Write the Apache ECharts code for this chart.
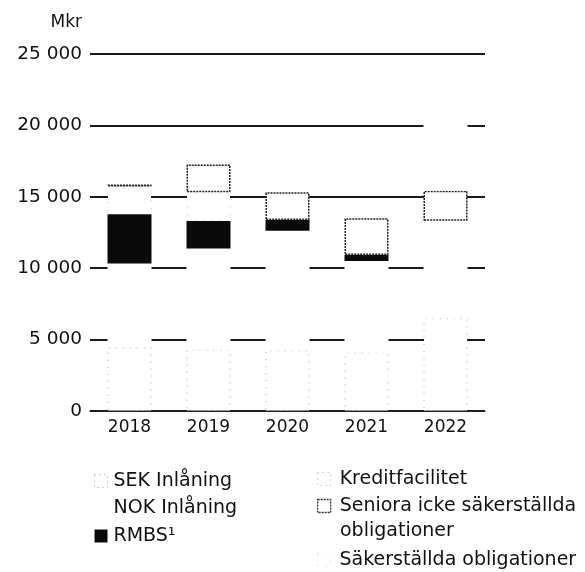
<!DOCTYPE html>
<html>
<head>
<meta charset="utf-8">
<title>Finansieringsstruktur</title>
<script src="https://cdn.jsdelivr.net/npm/echarts@6/dist/echarts.min.js"></script>
<style>
  html, body { margin: 0; padding: 0; background: #ffffff; }
  #chart { width: 585px; height: 572px; }
</style>
</head>
<body>
<div id="chart"></div>
<script>
// Funding by source and year, Mkr (stacked from bottom to top)
const years = ['2018', '2019', '2020', '2021', '2022'];
const sekDeposits    = [4470, 4300, 4250, 4100, 6500];
const nokDeposits    = [5860, 7080, 8370, 6410, 6820];
const rmbs           = [3440, 1920, 750, 420, 0];
const creditFacility = [1950, 2010, 0, 0, 0];
const seniorBonds    = [150, 1960, 1940, 2560, 2100];
const coveredBonds   = [0, 0, 0, 0, 6000];
const yTicks = [0, 5000, 10000, 15000, 20000, 25000];

const NAMES = {
  sek: 'SEK Inlåning',
  nok: 'NOK Inlåning',
  rmbs: 'RMBS¹',
  credit: 'Kreditfacilitet',
  senior: 'Seniora icke säkerställda obligationer',
  covered: 'Säkerställda obligationer'
};

const FONT = 'DejaVu Sans';
const INK = '#111111';

// fill and outline of each funding source
const STYLES = {
  sek:     { color: '#ffffff', borderColor: '#a8a8a8', borderWidth: 1, borderType: [1, 6] },
  nok:     { color: '#ffffff', borderColor: '#ffffff', borderWidth: 0 },
  rmbs:    { color: '#0a0a0a', borderColor: '#0a0a0a', borderWidth: 0 },
  credit:  { color: '#ffffff', borderColor: '#c4c4c4', borderWidth: 1, borderType: [1, 7] },
  senior:  { color: '#ffffff', borderColor: '#222222', borderWidth: 1.5, borderType: [2, 1] },
  covered: { color: '#ffffff', borderColor: '#ffffff', borderWidth: 0 }
};

// zero amounts are left out so that no empty outline is drawn
const asBars = arr => arr.map(v => (v === 0 ? null : v));

function barSeries(key, values) {
  return {
    name: NAMES[key],
    type: 'bar',
    stack: 'funding',
    barWidth: 44,
    data: asBars(values),
    itemStyle: STYLES[key],
    emphasis: { disabled: true }
  };
}

// legend swatches: small squares with sparse dotted edges
const SWATCH = {
  sek:     { color: '#ffffff', borderColor: '#9a9a9a', borderWidth: 1, borderType: [1, 4] },
  nok:     { color: '#ffffff', borderColor: '#ffffff', borderWidth: 0 },
  rmbs:    { color: '#0a0a0a', borderColor: '#0a0a0a', borderWidth: 0 },
  credit:  { color: '#ffffff', borderColor: '#aaaaaa', borderWidth: 1, borderType: [1, 4] },
  senior:  { color: '#ffffff', borderColor: '#333333', borderWidth: 1.3, borderType: [2, 1] },
  covered: { color: '#ffffff', borderColor: '#c8c8c8', borderWidth: 1, borderType: [1, 9] }
};
const legendItem = key => ({ name: NAMES[key], icon: 'rect', itemStyle: SWATCH[key] });

const chart = echarts.init(document.getElementById('chart'), null, { renderer: 'canvas' });

const fmtThousands = v => String(v).replace(/\B(?=(\d{3})+(?!\d))/g, ' ');

const legendText = pad => ({
  fontFamily: FONT,
  fontSize: 19,
  color: INK,
  lineHeight: 22,
  padding: [0, 0, 0, pad]
});

chart.setOption({
  animation: false,
  backgroundColor: '#ffffff',
  grid: { left: 90, right: 100, top: 54, bottom: 161, containLabel: false },
  xAxis: {
    type: 'category',
    data: years,
    z: 5,
    axisTick: { show: false },
    axisLine: { show: true, lineStyle: { color: '#222222', width: 1 } },
    axisLabel: { fontFamily: FONT, fontSize: 17, color: INK, margin: 8 },
    splitLine: { show: false }
  },
  yAxis: {
    type: 'value',
    min: yTicks[0],
    max: yTicks[yTicks.length - 1],
    interval: yTicks[1] - yTicks[0],
    name: 'Mkr',
    nameLocation: 'end',
    nameGap: 23,
    nameTextStyle: { fontFamily: FONT, fontSize: 17, color: INK, align: 'right', padding: [0, 8, 0, 0] },
    axisLine: { show: false },
    axisTick: { show: false },
    axisLabel: { fontFamily: FONT, fontSize: 18.5, color: INK, margin: 8, formatter: fmtThousands },
    splitLine: { show: true, lineStyle: { color: '#1a1a1a', width: 1.8 } }
  },
  legend: [
    {
      left: 89, top: 465, orient: 'vertical',
      itemWidth: 13, itemHeight: 13, itemGap: 5.5,
      selectedMode: false,
      textStyle: legendText(1),
      data: [legendItem('sek'), legendItem('nok'), legendItem('rmbs')]
    },
    {
      left: 312, top: 463, orient: 'vertical',
      itemWidth: 13, itemHeight: 13, itemGap: 5,
      selectedMode: false,
      textStyle: legendText(4),
      formatter: n => (n === NAMES.senior ? 'Seniora icke säkerställda' : n),
      data: [legendItem('credit'), legendItem('senior')]
    },
    {
      left: 312, top: 544, orient: 'vertical',
      itemWidth: 13, itemHeight: 13,
      selectedMode: false,
      textStyle: legendText(4),
      data: [legendItem('covered')]
    }
  ],
  graphic: [
    {
      type: 'text',
      left: 340, top: 522,
      style: { text: 'obligationer', font: '19px "DejaVu Sans"', fill: INK }
    }
  ],
  series: [
    barSeries('sek', sekDeposits),
    barSeries('nok', nokDeposits),
    barSeries('rmbs', rmbs),
    barSeries('credit', creditFacility),
    barSeries('senior', seniorBonds),
    barSeries('covered', coveredBonds)
  ]
});
</script>
</body>
</html>
